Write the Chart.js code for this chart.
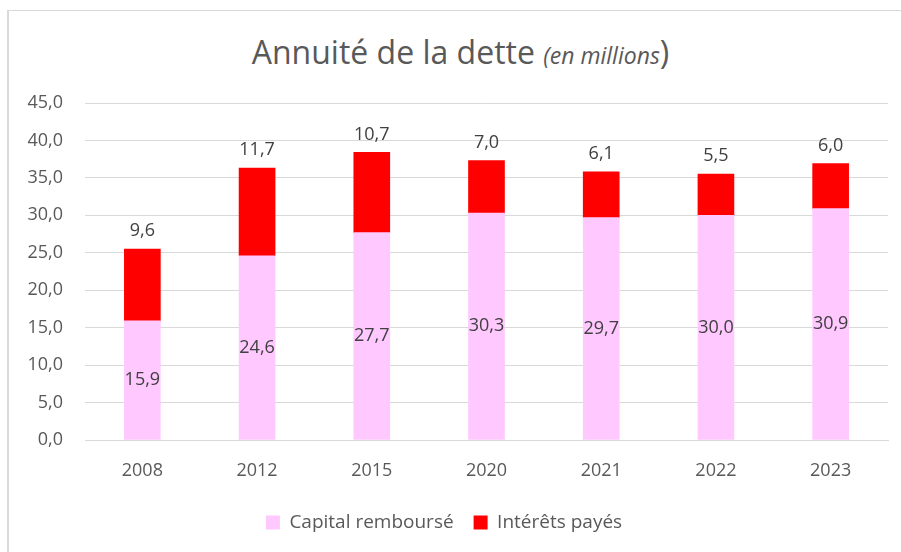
<!DOCTYPE html>
<html>
<head>
<meta charset="utf-8">
<script src="https://cdn.jsdelivr.net/npm/chart.js@4.4.0/dist/chart.umd.min.js"></script>
<style>
  html, body { margin: 0; padding: 0; background: #fff; }
  #wrap { position: relative; width: 901px; height: 552px; overflow: hidden; }
  #frame { position: absolute; left: 7px; top: 10px; width: 1000px; height: 1000px;
           border-left: 2px solid #d9d9d9; border-top: 1px solid #d9d9d9; }
  #title { position: absolute; left: 0; width: 921px; top: 30px; text-align: center;
           font-family: "Open Sans", sans-serif; font-size: 32px; color: #595959; }
  #title i { font-size: 23px; }
  canvas { position: absolute; left: 0; top: 0; }
</style>
</head>
<body>
<div id="wrap">
  <div id="frame"></div>
  <div id="title">Annuité de la dette <i>(en millions</i>)</div>
  <canvas id="c" width="901" height="552"></canvas>
</div>
<script>
// values
const years = ['2008', '2012', '2015', '2020', '2021', '2022', '2023'];
const capital = [15.9, 24.6, 27.7, 30.3, 29.7, 30.0, 30.9];
const interets = [9.6, 11.7, 10.7, 7.0, 6.1, 5.5, 6.0];

const fmt = v => v.toFixed(1).replace('.', ',');
const FONT = '"Open Sans", sans-serif';

// draws the value labels: capital in the middle of its bar, interest above the stack
const valueLabels = {
  id: 'valueLabels',
  afterDatasetsDraw(chart) {
    const ctx = chart.ctx;
    ctx.save();
    ctx.font = '18px ' + FONT;
    ctx.fillStyle = '#404040';
    ctx.textAlign = 'center';
    ctx.textBaseline = 'middle';
    chart.getDatasetMeta(0).data.forEach((bar, i) => {
      ctx.fillText(fmt(capital[i]), bar.x, (bar.y + bar.base) / 2);
    });
    chart.getDatasetMeta(1).data.forEach((bar, i) => {
      ctx.fillText(fmt(interets[i]), bar.x, bar.y - 18);
    });
    ctx.restore();
  }
};

new Chart(document.getElementById('c'), {
  type: 'bar',
  data: {
    labels: years,
    datasets: [
      { label: 'Capital remboursé', data: capital, backgroundColor: '#ffc8ff', barThickness: 36 },
      { label: 'Intérêts payés', data: interets, backgroundColor: '#ff0000', barThickness: 36 }
    ]
  },
  options: {
    responsive: false,
    animation: false,
    layout: { padding: { top: 103, right: 13, bottom: 10, left: 0 } },
    plugins: {
      legend: {
        position: 'bottom',
        labels: {
          color: '#595959',
          font: { family: FONT, size: 19 },
          boxWidth: 14, boxHeight: 14, padding: 20
        }
      },
      tooltip: { enabled: false }
    },
    scales: {
      x: {
        stacked: true,
        grid: { display: false },
        border: { color: '#d9d9d9' },
        ticks: { color: '#595959', font: { family: FONT, size: 18 }, padding: 12 },
        afterFit(s) { s.height = 53; }
      },
      y: {
        stacked: true,
        min: 0, max: 45,
        grid: { color: '#d9d9d9', drawTicks: false },
        border: { display: false },
        ticks: { stepSize: 5, color: '#595959', padding: 22,
                 font: { family: FONT, size: 18 },
                 callback: v => fmt(v) },
        afterFit(s) { s.width = 85; }
      }
    }
  },
  plugins: [valueLabels]
});
</script>
</body>
</html>
